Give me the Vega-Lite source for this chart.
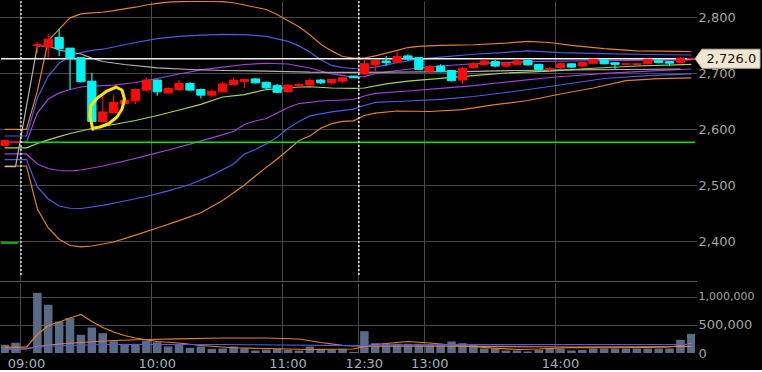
{
  "$schema": "https://vega.github.io/schema/vega-lite/v6.json",
  "background": "#000000",
  "padding": 0,
  "spacing": 2,
  "config": {
    "view": {"stroke": null},
    "font": "DejaVu Sans",
    "axis": {"labelFont": "DejaVu Sans", "gridColor": "#484848", "gridWidth": 1, "labelOverlap": false, "labelBound": false}
  },
  "resolve": {"scale": {"x": "shared"}},
  "datasets": {
    "candles": [
      {"t":"d1 14:55","o":2571,"h":2582,"l":2569,"c":2580,"vol":146000},
      {"t":"d1 15:00","o":2577,"h":2577,"l":2577,"c":2577,"vol":181000},
      {"t":"d2 09:05","o":2750,"h":2756,"l":2736,"c":2751,"vol":1071000},
      {"t":"d2 09:10","o":2747,"h":2771,"l":2728,"c":2761,"vol":858000},
      {"t":"d2 09:15","o":2764,"h":2780,"l":2731,"c":2744,"vol":560000},
      {"t":"d2 09:20","o":2745,"h":2745,"l":2671,"c":2727,"vol":619000},
      {"t":"d2 09:25","o":2728,"h":2729,"l":2684,"c":2685,"vol":324000},
      {"t":"d2 09:30","o":2686,"h":2701,"l":2612,"c":2614,"vol":454000},
      {"t":"d2 09:35","o":2614,"h":2660,"l":2612,"c":2631,"vol":352000},
      {"t":"d2 09:40","o":2630,"h":2661,"l":2628,"c":2648,"vol":210000},
      {"t":"d2 09:45","o":2646,"h":2655,"l":2644,"c":2652,"vol":164000},
      {"t":"d2 09:50","o":2651,"h":2673,"l":2645,"c":2671,"vol":164000},
      {"t":"d2 09:55","o":2670,"h":2693,"l":2668,"c":2688,"vol":222000},
      {"t":"d2 10:00","o":2688,"h":2689,"l":2660,"c":2667,"vol":192000},
      {"t":"d2 10:05","o":2665,"h":2675,"l":2663,"c":2673,"vol":116000},
      {"t":"d2 10:10","o":2671,"h":2688,"l":2669,"c":2682,"vol":164000},
      {"t":"d2 10:15","o":2682,"h":2684,"l":2669,"c":2670,"vol":92000},
      {"t":"d2 10:20","o":2671,"h":2673,"l":2655,"c":2661,"vol":116000},
      {"t":"d2 10:25","o":2661,"h":2671,"l":2657,"c":2668,"vol":74000},
      {"t":"d2 10:30","o":2667,"h":2685,"l":2666,"c":2681,"vol":80000},
      {"t":"d2 10:35","o":2680,"h":2692,"l":2679,"c":2688,"vol":116000},
      {"t":"d2 10:40","o":2685,"h":2690,"l":2674,"c":2689,"vol":80000},
      {"t":"d2 10:45","o":2690,"h":2691,"l":2682,"c":2683,"vol":44000},
      {"t":"d2 10:50","o":2684,"h":2685,"l":2670,"c":2674,"vol":62000},
      {"t":"d2 10:55","o":2678,"h":2681,"l":2665,"c":2666,"vol":74000},
      {"t":"d2 11:00","o":2667,"h":2680,"l":2666,"c":2679,"vol":56000},
      {"t":"d2 11:05","o":2678,"h":2683,"l":2675,"c":2680,"vol":44000},
      {"t":"d2 11:10","o":2679,"h":2691,"l":2678,"c":2687,"vol":116000},
      {"t":"d2 11:15","o":2688,"h":2690,"l":2681,"c":2683,"vol":74000},
      {"t":"d2 11:20","o":2683,"h":2690,"l":2680,"c":2689,"vol":62000},
      {"t":"d2 11:25","o":2686,"h":2693,"l":2682,"c":2692,"vol":74000},
      {"t":"d2 11:30","o":2695,"h":2695,"l":2692,"c":2692,"vol":20000},
      {"t":"d2 12:30","o":2699,"h":2725,"l":2697,"c":2717,"vol":388000},
      {"t":"d2 12:35","o":2715,"h":2724,"l":2703,"c":2723,"vol":175000},
      {"t":"d2 12:40","o":2722,"h":2731,"l":2713,"c":2719,"vol":164000},
      {"t":"d2 12:45","o":2720,"h":2739,"l":2718,"c":2730,"vol":164000},
      {"t":"d2 12:50","o":2731,"h":2734,"l":2722,"c":2726,"vol":164000},
      {"t":"d2 12:55","o":2728,"h":2729,"l":2706,"c":2707,"vol":164000},
      {"t":"d2 13:00","o":2704,"h":2715,"l":2700,"c":2712,"vol":150000},
      {"t":"d2 13:05","o":2713,"h":2716,"l":2702,"c":2704,"vol":150000},
      {"t":"d2 13:10","o":2705,"h":2706,"l":2685,"c":2687,"vol":205000},
      {"t":"d2 13:15","o":2688,"h":2711,"l":2681,"c":2709,"vol":175000},
      {"t":"d2 13:20","o":2710,"h":2720,"l":2708,"c":2717,"vol":152000},
      {"t":"d2 13:25","o":2716,"h":2725,"l":2714,"c":2722,"vol":80000},
      {"t":"d2 13:30","o":2721,"h":2724,"l":2711,"c":2713,"vol":80000},
      {"t":"d2 13:35","o":2713,"h":2720,"l":2711,"c":2718,"vol":44000},
      {"t":"d2 13:40","o":2716,"h":2724,"l":2715,"c":2722,"vol":44000},
      {"t":"d2 13:45","o":2723,"h":2724,"l":2714,"c":2715,"vol":27000},
      {"t":"d2 13:50","o":2716,"h":2717,"l":2705,"c":2707,"vol":56000},
      {"t":"d2 13:55","o":2708,"h":2711,"l":2703,"c":2709,"vol":80000},
      {"t":"d2 14:00","o":2710,"h":2719,"l":2708,"c":2717,"vol":80000},
      {"t":"d2 14:05","o":2717,"h":2718,"l":2710,"c":2711,"vol":44000},
      {"t":"d2 14:10","o":2713,"h":2720,"l":2712,"c":2719,"vol":56000},
      {"t":"d2 14:15","o":2718,"h":2726,"l":2717,"c":2725,"vol":80000},
      {"t":"d2 14:20","o":2724,"h":2725,"l":2716,"c":2717,"vol":80000},
      {"t":"d2 14:25","o":2719,"h":2720,"l":2706,"c":2716,"vol":80000},
      {"t":"d2 14:30","o":2716,"h":2718,"l":2715,"c":2717,"vol":80000},
      {"t":"d2 14:35","o":2716,"h":2718,"l":2715,"c":2717,"vol":80000},
      {"t":"d2 14:40","o":2717,"h":2726,"l":2716,"c":2725,"vol":80000},
      {"t":"d2 14:45","o":2723,"h":2724,"l":2718,"c":2719,"vol":80000},
      {"t":"d2 14:50","o":2721,"h":2721,"l":2713,"c":2718,"vol":80000},
      {"t":"d2 14:55","o":2719,"h":2729,"l":2718,"c":2727,"vol":235000},
      {"t":"d2 15:00","o":2726,"h":2726,"l":2726,"c":2726,"vol":341000}
    ],
    "bands": [
      {"t":"d1 14:55","s":"u3","v":2600},{"t":"d1 15:00","s":"u3","v":2600},{"t":"d2 09:00","s":"u3","v":2600},{"t":"d2 09:05","s":"u3","v":2668},{"t":"d2 09:10","s":"u3","v":2758},{"t":"d2 09:15","s":"u3","v":2779},{"t":"d2 09:20","s":"u3","v":2799},{"t":"d2 09:25","s":"u3","v":2806},{"t":"d2 09:30","s":"u3","v":2808},{"t":"d2 09:35","s":"u3","v":2809},{"t":"d2 09:40","s":"u3","v":2812},{"t":"d2 09:45","s":"u3","v":2815},{"t":"d2 09:50","s":"u3","v":2818},{"t":"d2 09:55","s":"u3","v":2822},{"t":"d2 10:00","s":"u3","v":2825},{"t":"d2 10:05","s":"u3","v":2827},{"t":"d2 10:10","s":"u3","v":2828},{"t":"d2 10:20","s":"u3","v":2829},{"t":"d2 10:30","s":"u3","v":2828},{"t":"d2 10:35","s":"u3","v":2826},{"t":"d2 10:40","s":"u3","v":2822},{"t":"d2 10:45","s":"u3","v":2818},{"t":"d2 10:50","s":"u3","v":2814},{"t":"d2 10:55","s":"u3","v":2805},{"t":"d2 11:00","s":"u3","v":2794},{"t":"d2 11:05","s":"u3","v":2783},{"t":"d2 11:10","s":"u3","v":2769},{"t":"d2 11:15","s":"u3","v":2752},{"t":"d2 11:20","s":"u3","v":2740},{"t":"d2 11:25","s":"u3","v":2730},{"t":"d2 11:30","s":"u3","v":2727},{"t":"d2 12:30","s":"u3","v":2727},{"t":"d2 12:35","s":"u3","v":2731},{"t":"d2 12:40","s":"u3","v":2736},{"t":"d2 12:45","s":"u3","v":2741},{"t":"d2 12:50","s":"u3","v":2746},{"t":"d2 12:55","s":"u3","v":2748},{"t":"d2 13:00","s":"u3","v":2749},{"t":"d2 13:05","s":"u3","v":2750},{"t":"d2 13:20","s":"u3","v":2751},{"t":"d2 13:35","s":"u3","v":2754},{"t":"d2 13:45","s":"u3","v":2757},{"t":"d2 13:55","s":"u3","v":2755},{"t":"d2 14:05","s":"u3","v":2750},{"t":"d2 14:20","s":"u3","v":2744},{"t":"d2 14:35","s":"u3","v":2740},{"t":"d2 14:55","s":"u3","v":2739},{"t":"d2 15:00","s":"u3","v":2738.5},
      {"t":"d1 14:55","s":"u2","v":2588},{"t":"d1 15:00","s":"u2","v":2588},{"t":"d2 09:00","s":"u2","v":2588},{"t":"d2 09:05","s":"u2","v":2656},{"t":"d2 09:10","s":"u2","v":2695},{"t":"d2 09:15","s":"u2","v":2718},{"t":"d2 09:20","s":"u2","v":2731},{"t":"d2 09:25","s":"u2","v":2737},{"t":"d2 09:30","s":"u2","v":2741},{"t":"d2 09:35","s":"u2","v":2743},{"t":"d2 09:40","s":"u2","v":2747},{"t":"d2 09:50","s":"u2","v":2755},{"t":"d2 10:00","s":"u2","v":2762},{"t":"d2 10:10","s":"u2","v":2766},{"t":"d2 10:20","s":"u2","v":2768},{"t":"d2 10:30","s":"u2","v":2769.5},{"t":"d2 10:40","s":"u2","v":2769},{"t":"d2 10:50","s":"u2","v":2766},{"t":"d2 11:00","s":"u2","v":2757},{"t":"d2 11:05","s":"u2","v":2749},{"t":"d2 11:10","s":"u2","v":2738},{"t":"d2 11:15","s":"u2","v":2724},{"t":"d2 11:20","s":"u2","v":2714},{"t":"d2 11:25","s":"u2","v":2710},{"t":"d2 11:30","s":"u2","v":2708.6},{"t":"d2 12:30","s":"u2","v":2709},{"t":"d2 12:35","s":"u2","v":2711},{"t":"d2 12:45","s":"u2","v":2719},{"t":"d2 12:55","s":"u2","v":2725.5},{"t":"d2 13:05","s":"u2","v":2729},{"t":"d2 13:20","s":"u2","v":2734},{"t":"d2 13:35","s":"u2","v":2737.5},{"t":"d2 13:45","s":"u2","v":2740},{"t":"d2 14:00","s":"u2","v":2737},{"t":"d2 14:20","s":"u2","v":2735},{"t":"d2 14:40","s":"u2","v":2733.6},{"t":"d2 15:00","s":"u2","v":2732.7},
      {"t":"d1 14:55","s":"u1","v":2577},{"t":"d1 15:00","s":"u1","v":2577},{"t":"d2 09:00","s":"u1","v":2577},{"t":"d2 09:05","s":"u1","v":2629},{"t":"d2 09:10","s":"u1","v":2654},{"t":"d2 09:15","s":"u1","v":2665},{"t":"d2 09:20","s":"u1","v":2671},{"t":"d2 09:25","s":"u1","v":2675.5},{"t":"d2 09:30","s":"u1","v":2677},{"t":"d2 09:40","s":"u1","v":2679},{"t":"d2 09:50","s":"u1","v":2683.6},{"t":"d2 10:00","s":"u1","v":2690.7},{"t":"d2 10:10","s":"u1","v":2698.8},{"t":"d2 10:20","s":"u1","v":2706},{"t":"d2 10:30","s":"u1","v":2711},{"t":"d2 10:40","s":"u1","v":2715.7},{"t":"d2 10:50","s":"u1","v":2717.9},{"t":"d2 11:00","s":"u1","v":2716.6},{"t":"d2 11:10","s":"u1","v":2709.5},{"t":"d2 11:20","s":"u1","v":2698.8},{"t":"d2 11:30","s":"u1","v":2693},{"t":"d2 12:30","s":"u1","v":2694},{"t":"d2 12:35","s":"u1","v":2699.6},{"t":"d2 12:45","s":"u1","v":2705},{"t":"d2 12:55","s":"u1","v":2709.5},{"t":"d2 13:05","s":"u1","v":2713},{"t":"d2 13:20","s":"u1","v":2717},{"t":"d2 13:35","s":"u1","v":2719},{"t":"d2 13:45","s":"u1","v":2721},{"t":"d2 14:05","s":"u1","v":2722},{"t":"d2 14:30","s":"u1","v":2723},{"t":"d2 15:00","s":"u1","v":2724},
      {"t":"d1 14:55","s":"mid","v":2567},{"t":"d1 15:00","s":"mid","v":2567},{"t":"d2 09:00","s":"mid","v":2567},{"t":"d2 09:05","s":"mid","v":2574.6},{"t":"d2 09:10","s":"mid","v":2581},{"t":"d2 09:15","s":"mid","v":2587},{"t":"d2 09:20","s":"mid","v":2592.5},{"t":"d2 09:30","s":"mid","v":2601.4},{"t":"d2 09:40","s":"mid","v":2608.6},{"t":"d2 09:50","s":"mid","v":2615.7},{"t":"d2 10:00","s":"mid","v":2624.6},{"t":"d2 10:10","s":"mid","v":2634.4},{"t":"d2 10:20","s":"mid","v":2644.6},{"t":"d2 10:30","s":"mid","v":2657.7},{"t":"d2 10:40","s":"mid","v":2662},{"t":"d2 10:50","s":"mid","v":2671},{"t":"d2 11:00","s":"mid","v":2674.6},{"t":"d2 11:10","s":"mid","v":2676},{"t":"d2 11:20","s":"mid","v":2673.75},{"t":"d2 11:30","s":"mid","v":2672.9},{"t":"d2 12:30","s":"mid","v":2673.75},{"t":"d2 12:40","s":"mid","v":2681},{"t":"d2 12:50","s":"mid","v":2686},{"t":"d2 13:05","s":"mid","v":2691},{"t":"d2 13:20","s":"mid","v":2696},{"t":"d2 13:35","s":"mid","v":2700.5},{"t":"d2 13:55","s":"mid","v":2704},{"t":"d2 14:15","s":"mid","v":2709},{"t":"d2 14:35","s":"mid","v":2713},{"t":"d2 15:00","s":"mid","v":2716},
      {"t":"d1 14:55","s":"l1","v":2556},{"t":"d1 15:00","s":"l1","v":2556},{"t":"d2 09:00","s":"l1","v":2556},{"t":"d2 09:05","s":"l1","v":2538},{"t":"d2 09:10","s":"l1","v":2530},{"t":"d2 09:15","s":"l1","v":2526.4},{"t":"d2 09:20","s":"l1","v":2525.5},{"t":"d2 09:25","s":"l1","v":2527.3},{"t":"d2 09:35","s":"l1","v":2534.5},{"t":"d2 09:45","s":"l1","v":2543.4},{"t":"d2 09:55","s":"l1","v":2553},{"t":"d2 10:05","s":"l1","v":2563},{"t":"d2 10:15","s":"l1","v":2573.4},{"t":"d2 10:25","s":"l1","v":2584.8},{"t":"d2 10:35","s":"l1","v":2596},{"t":"d2 10:40","s":"l1","v":2608.6},{"t":"d2 10:45","s":"l1","v":2614.8},{"t":"d2 10:50","s":"l1","v":2619.3},{"t":"d2 11:00","s":"l1","v":2639},{"t":"d2 11:05","s":"l1","v":2646},{"t":"d2 11:15","s":"l1","v":2650.5},{"t":"d2 11:30","s":"l1","v":2653.2},{"t":"d2 12:30","s":"l1","v":2659.5},{"t":"d2 12:35","s":"l1","v":2664},{"t":"d2 12:50","s":"l1","v":2668.4},{"t":"d2 13:05","s":"l1","v":2673},{"t":"d2 13:20","s":"l1","v":2678},{"t":"d2 13:35","s":"l1","v":2684.5},{"t":"d2 13:55","s":"l1","v":2692.5},{"t":"d2 14:20","s":"l1","v":2700},{"t":"d2 14:40","s":"l1","v":2704},{"t":"d2 15:00","s":"l1","v":2707.7},
      {"t":"d1 14:55","s":"l2","v":2546},{"t":"d1 15:00","s":"l2","v":2546},{"t":"d2 09:00","s":"l2","v":2546},{"t":"d2 09:05","s":"l2","v":2497},{"t":"d2 09:10","s":"l2","v":2475.5},{"t":"d2 09:15","s":"l2","v":2463},{"t":"d2 09:20","s":"l2","v":2459},{"t":"d2 09:25","s":"l2","v":2458.6},{"t":"d2 09:35","s":"l2","v":2464},{"t":"d2 09:45","s":"l2","v":2472},{"t":"d2 09:55","s":"l2","v":2480},{"t":"d2 10:05","s":"l2","v":2490},{"t":"d2 10:15","s":"l2","v":2501.4},{"t":"d2 10:25","s":"l2","v":2517.7},{"t":"d2 10:35","s":"l2","v":2538},{"t":"d2 10:40","s":"l2","v":2556},{"t":"d2 10:45","s":"l2","v":2564},{"t":"d2 10:50","s":"l2","v":2574},{"t":"d2 10:55","s":"l2","v":2586},{"t":"d2 11:00","s":"l2","v":2602},{"t":"d2 11:05","s":"l2","v":2614},{"t":"d2 11:10","s":"l2","v":2624},{"t":"d2 11:20","s":"l2","v":2631},{"t":"d2 11:30","s":"l2","v":2636},{"t":"d2 12:30","s":"l2","v":2642.5},{"t":"d2 12:35","s":"l2","v":2648},{"t":"d2 12:50","s":"l2","v":2650.5},{"t":"d2 13:05","s":"l2","v":2653.6},{"t":"d2 13:20","s":"l2","v":2658.6},{"t":"d2 13:35","s":"l2","v":2665.7},{"t":"d2 13:55","s":"l2","v":2676.4},{"t":"d2 14:20","s":"l2","v":2690.7},{"t":"d2 14:40","s":"l2","v":2696},{"t":"d2 15:00","s":"l2","v":2699},
      {"t":"d1 14:55","s":"l3","v":2534.5},{"t":"d1 15:00","s":"l3","v":2534.5},{"t":"d2 09:00","s":"l3","v":2534.5},{"t":"d2 09:05","s":"l3","v":2457.7},{"t":"d2 09:10","s":"l3","v":2423.8},{"t":"d2 09:15","s":"l3","v":2403.6},{"t":"d2 09:20","s":"l3","v":2392.5},{"t":"d2 09:25","s":"l3","v":2390},{"t":"d2 09:30","s":"l3","v":2391.6},{"t":"d2 09:40","s":"l3","v":2398.75},{"t":"d2 09:50","s":"l3","v":2411},{"t":"d2 10:00","s":"l3","v":2423.8},{"t":"d2 10:10","s":"l3","v":2437},{"t":"d2 10:20","s":"l3","v":2451},{"t":"d2 10:30","s":"l3","v":2473},{"t":"d2 10:40","s":"l3","v":2500.5},{"t":"d2 10:45","s":"l3","v":2516.6},{"t":"d2 10:50","s":"l3","v":2532},{"t":"d2 10:55","s":"l3","v":2547},{"t":"d2 11:00","s":"l3","v":2563},{"t":"d2 11:05","s":"l3","v":2580},{"t":"d2 11:10","s":"l3","v":2588},{"t":"d2 11:15","s":"l3","v":2602},{"t":"d2 11:20","s":"l3","v":2610},{"t":"d2 11:25","s":"l3","v":2614},{"t":"d2 11:30","s":"l3","v":2615},{"t":"d2 12:30","s":"l3","v":2624.6},{"t":"d2 12:35","s":"l3","v":2629},{"t":"d2 12:45","s":"l3","v":2632.7},{"t":"d2 13:00","s":"l3","v":2631.8},{"t":"d2 13:15","s":"l3","v":2635},{"t":"d2 13:30","s":"l3","v":2644},{"t":"d2 13:45","s":"l3","v":2651.4},{"t":"d2 14:00","s":"l3","v":2663},{"t":"d2 14:15","s":"l3","v":2673.75},{"t":"d2 14:30","s":"l3","v":2687},{"t":"d2 14:45","s":"l3","v":2690.4},{"t":"d2 15:00","s":"l3","v":2692},
      {"t":"d1 14:55","s":"vw","v":2533.5},{"t":"d1 15:00","s":"vw","v":2533.5},{"t":"d2 09:05","s":"vw","v":2748.75},{"t":"d2 09:10","s":"vw","v":2748.75},{"t":"d2 09:15","s":"vw","v":2741.6},{"t":"d2 09:20","s":"vw","v":2738},{"t":"d2 09:25","s":"vw","v":2734.5},{"t":"d2 09:30","s":"vw","v":2727},{"t":"d2 09:35","s":"vw","v":2721},{"t":"d2 09:45","s":"vw","v":2715.7},{"t":"d2 10:00","s":"vw","v":2709.8},{"t":"d2 10:15","s":"vw","v":2706.8},{"t":"d2 10:30","s":"vw","v":2705},{"t":"d2 10:50","s":"vw","v":2704},{"t":"d2 11:10","s":"vw","v":2702},{"t":"d2 11:30","s":"vw","v":2701.8},{"t":"d2 12:50","s":"vw","v":2702.3},{"t":"d2 13:15","s":"vw","v":2703},{"t":"d2 13:40","s":"vw","v":2705},{"t":"d2 14:05","s":"vw","v":2706},{"t":"d2 14:30","s":"vw","v":2706.8},{"t":"d2 14:55","s":"vw","v":2707.7}
    ],
    "vlines": [
      {"t":"d1 14:55","s":"m1","v":103000},{"t":"d1 15:00","s":"m1","v":103000},{"t":"d2 09:00","s":"m1","v":103000},{"t":"d2 09:05","s":"m1","v":329000},{"t":"d2 09:10","s":"m1","v":489000},{"t":"d2 09:15","s":"m1","v":552000},{"t":"d2 09:20","s":"m1","v":623000},{"t":"d2 09:25","s":"m1","v":685000},{"t":"d2 09:30","s":"m1","v":560000},{"t":"d2 09:35","s":"m1","v":454000},{"t":"d2 09:40","s":"m1","v":374000},{"t":"d2 09:45","s":"m1","v":311000},{"t":"d2 09:50","s":"m1","v":267000},{"t":"d2 10:00","s":"m1","v":205000},{"t":"d2 10:10","s":"m1","v":178000},{"t":"d2 10:20","s":"m1","v":133000},{"t":"d2 10:35","s":"m1","v":93000},{"t":"d2 10:50","s":"m1","v":80000},{"t":"d2 11:10","s":"m1","v":62000},{"t":"d2 11:30","s":"m1","v":71000},{"t":"d2 12:30","s":"m1","v":116000},{"t":"d2 12:35","s":"m1","v":151000},{"t":"d2 12:45","s":"m1","v":187000},{"t":"d2 12:50","s":"m1","v":205000},{"t":"d2 13:00","s":"m1","v":178000},{"t":"d2 13:10","s":"m1","v":142000},{"t":"d2 13:25","s":"m1","v":98000},{"t":"d2 13:40","s":"m1","v":62000},{"t":"d2 13:50","s":"m1","v":71000},{"t":"d2 14:05","s":"m1","v":98000},{"t":"d2 14:20","s":"m1","v":93000},{"t":"d2 14:40","s":"m1","v":98000},{"t":"d2 14:50","s":"m1","v":107000},{"t":"d2 15:00","s":"m1","v":169000},
      {"t":"d1 14:55","s":"m2","v":75000},{"t":"d1 15:00","s":"m2","v":75000},{"t":"d2 09:00","s":"m2","v":75000},{"t":"d2 09:05","s":"m2","v":116000},{"t":"d2 09:15","s":"m2","v":160000},{"t":"d2 09:25","s":"m2","v":187000},{"t":"d2 09:40","s":"m2","v":222000},{"t":"d2 09:55","s":"m2","v":240000},{"t":"d2 10:10","s":"m2","v":253000},{"t":"d2 10:30","s":"m2","v":267000},{"t":"d2 10:50","s":"m2","v":267000},{"t":"d2 11:05","s":"m2","v":249000},{"t":"d2 11:15","s":"m2","v":187000},{"t":"d2 11:25","s":"m2","v":137000},{"t":"d2 12:30","s":"m2","v":121000},{"t":"d2 13:15","s":"m2","v":121000},{"t":"d2 14:05","s":"m2","v":107000},{"t":"d2 15:00","s":"m2","v":116000},
      {"t":"d1 14:55","s":"m3","v":75000},{"t":"d1 15:00","s":"m3","v":75000},{"t":"d2 09:00","s":"m3","v":85000},{"t":"d2 09:10","s":"m3","v":121000},{"t":"d2 09:35","s":"m3","v":151000},{"t":"d2 10:30","s":"m3","v":151000},{"t":"d2 11:30","s":"m3","v":133000},{"t":"d2 12:40","s":"m3","v":146000},{"t":"d2 15:00","s":"m3","v":151000}
    ]
  },
  "vconcat": [
    {
      "width": 694,
      "height": 280,
      "layer": [
        {
          "data": {"name": "bands"},
          "mark": {"type": "line", "strokeWidth": 1.2, "clip": true},
          "encoding": {
            "x": {
              "field": "t", "type": "ordinal",
              "scale": {
                "domain": ["d1 14:55","d1 15:00","d2 09:00","d2 09:05","d2 09:10","d2 09:15","d2 09:20","d2 09:25","d2 09:30","d2 09:35","d2 09:40","d2 09:45","d2 09:50","d2 09:55","d2 10:00","d2 10:05","d2 10:10","d2 10:15","d2 10:20","d2 10:25","d2 10:30","d2 10:35","d2 10:40","d2 10:45","d2 10:50","d2 10:55","d2 11:00","d2 11:05","d2 11:10","d2 11:15","d2 11:20","d2 11:25","d2 11:30","d2 12:30","d2 12:35","d2 12:40","d2 12:45","d2 12:50","d2 12:55","d2 13:00","d2 13:05","d2 13:10","d2 13:15","d2 13:20","d2 13:25","d2 13:30","d2 13:35","d2 13:40","d2 13:45","d2 13:50","d2 13:55","d2 14:00","d2 14:05","d2 14:10","d2 14:15","d2 14:20","d2 14:25","d2 14:30","d2 14:35","d2 14:40","d2 14:45","d2 14:50","d2 14:55","d2 15:00"],
                "range": [-1.8, 695.8],
                "paddingInner": 0,
                "paddingOuter": 0
              },
              "axis": {
                "orient": "bottom", "values": ["d2 09:00","d2 10:00","d2 11:00","d2 12:30","d2 13:00","d2 14:00"],
                "bandPosition": 0, "labels": false, "ticks": false, "domain": true, "domainColor": "#555555",
                "grid": true, "title": null
              }
            },
            "y": {
              "field": "v", "type": "quantitative",
              "scale": {"domain": [2329.1, 2829.1], "nice": false, "zero": false},
              "axis": {
                "orient": "right", "title": null, "domain": false,
                "values": [2400,2425,2450,2475,2500,2525,2550,2575,2600,2625,2650,2675,2700,2725,2750,2775,2800,2825],
                "labelExpr": "datum.value % 100 === 0 ? format(datum.value, ',') : ''",
                "grid": true,
                "gridOpacity": {"condition": {"test": "datum.value % 100 === 0", "value": 1}, "value": 0},
                "ticks": true, "tickColor": "#6a6a6a", "tickWidth": 1,
                "tickSize": {"condition": {"test": "datum.value % 50 === 0", "value": 9}, "value": 5},
                "tickOpacity": {"condition": {"test": "datum.value % 100 === 0", "value": 0}, "value": 1},
                "labelPadding": -6, "labelColor": "#a4a4a4", "labelFontSize": 13,
                "labelOverlap": false, "labelBound": false
              }
            },
            "color": {
              "field": "s", "type": "nominal", "legend": null,
              "scale": {
                "domain": ["u3","l3","u2","l2","u1","l1","mid","vw"],
                "range": ["#e3812c","#e3812c","#5058e4","#5058e4","#a340de","#a340de","#a8d65c","#b4b4b4"]
              }
            }
          }
        },
        {
          "data": {"values": [{"p": 2577}]},
          "mark": {"type": "rule", "color": "#00e600", "strokeWidth": 1.5, "clip": true},
          "encoding": {
            "x": {"datum": "d2 09:00", "type": "ordinal", "bandPosition": 0},
            "x2": {"datum": "d2 15:00", "bandPosition": 1},
            "y": {"field": "p", "type": "quantitative"}
          }
        },
        {
          "data": {"values": [{"p": 2397}]},
          "mark": {"type": "rule", "color": "#00e600", "strokeWidth": 1.5, "clip": true},
          "encoding": {
            "x": {"datum": "d1 14:55", "type": "ordinal", "bandPosition": 0},
            "x2": {"datum": "d1 15:00", "bandPosition": 0.75},
            "y": {"field": "p", "type": "quantitative"}
          }
        },
        {
          "data": {"values": [{"p": 2726}]},
          "mark": {"type": "rule", "color": "#f2f2f2", "strokeWidth": 1.3},
          "encoding": {"y": {"field": "p", "type": "quantitative"}}
        },
        {
          "data": {"name": "candles"},
          "mark": {"type": "rule", "strokeWidth": 1.2, "clip": true},
          "encoding": {
            "x": {"field": "t", "type": "ordinal"},
            "y": {"field": "l", "type": "quantitative"},
            "y2": {"field": "h"},
            "color": {"condition": {"test": "datum.c >= datum.o", "value": "#ff0a0a"}, "value": "#00f4f4"}
          }
        },
        {
          "data": {"name": "candles"},
          "mark": {"type": "bar", "width": 8.3, "strokeWidth": 1, "clip": true},
          "encoding": {
            "x": {"field": "t", "type": "ordinal"},
            "y": {"field": "o", "type": "quantitative"},
            "y2": {"field": "c"},
            "color": {"condition": {"test": "datum.c >= datum.o", "value": "#ff0a0a"}, "value": "#00f4f4"},
            "stroke": {"condition": {"test": "datum.c >= datum.o", "value": "#ff0a0a"}, "value": "#00f4f4"}
          }
        },
        {
          "data": {"values": [{"t": "d2 09:00"}, {"t": "d2 12:30"}]},
          "mark": {"type": "rule", "color": "#ffffff", "strokeWidth": 1.3, "strokeDash": [2, 2]},
          "encoding": {
            "x": {"field": "t", "type": "ordinal", "bandPosition": 0},
            "y": {"datum": 2829.1, "type": "quantitative"},
            "y2": {"datum": 2338}
          }
        },
        {
          "data": {"values": [{"t": "d2 09:35", "p": 2638}]},
          "mark": {
            "type": "point", "filled": false, "opacity": 1, "color": "#ffe400", "strokeWidth": 3,
            "strokeCap": "round", "strokeJoin": "round", "size": 10000,
            "shape": "M-0.201,0.426 L-0.255,0.16 L-0.235,-0.06 L-0.101,-0.206 L0.085,-0.34 L0.265,-0.42 L0.385,-0.36 L0.435,-0.18 L0.385,0.02 L0.285,0.18 L0.125,0.31 L-0.055,0.38 L-0.175,0.40"
          },
          "encoding": {
            "x": {"field": "t", "type": "ordinal"},
            "y": {"field": "p", "type": "quantitative"}
          }
        },
        {
          "data": {"values": [{"t": "d2 15:00", "p": 2726}]},
          "mark": {
            "type": "point", "filled": true, "opacity": 1, "color": "#efe6d2", "stroke": "#bdb29c", "strokeWidth": 1,
            "size": 25600,
            "shape": "M0.0456,0 L0.133,-0.119 L0.858,-0.119 L0.858,0.119 L0.133,0.119 Z"
          },
          "encoding": {
            "x": {"field": "t", "type": "ordinal"},
            "y": {"field": "p", "type": "quantitative"}
          }
        },
        {
          "data": {"values": [{"t": "d2 15:00", "p": 2726}]},
          "mark": {"type": "text", "dx": 40, "align": "center", "baseline": "middle", "fontSize": 13, "color": "#141414", "font": "DejaVu Sans"},
          "encoding": {
            "x": {"field": "t", "type": "ordinal"},
            "y": {"field": "p", "type": "quantitative"},
            "text": {"field": "p", "format": ",.1f"}
          }
        }
      ]
    },
    {
      "width": 694,
      "height": 70,
      "layer": [
        {
          "data": {"name": "vlines"},
          "mark": {"type": "line", "strokeWidth": 1.2, "clip": true, "opacity": 0},
          "encoding": {
            "x": {
              "field": "t", "type": "ordinal",
              "axis": {
                "orient": "bottom", "values": ["d2 09:00","d2 10:00","d2 11:00","d2 12:30","d2 13:00","d2 14:00"],
                "bandPosition": 0, "labelExpr": "slice(datum.value, 3)", "labels": true, "labelAngle": 0,
                "labelAlign": "center", "labelBaseline": "top", "ticks": false, "domain": false,
                "grid": true, "title": null, "labelColor": "#a8b0bf", "labelFontSize": 13, "labelPadding": 4,
                "labelOverlap": false, "labelBound": false, "labelFlush": false
              }
            },
            "y": {
              "field": "v", "type": "quantitative",
              "scale": {"domain": [0, 1245600], "nice": false},
              "axis": {
                "orient": "right", "title": null, "domain": false, "ticks": false,
                "tickCount": 3,
                "labelExpr": "format(datum.value, ',')",
                "grid": true,
                "gridOpacity": {"condition": {"test": "datum.value === 0", "value": 0}, "value": 1},
                "labelPadding": 3, "labelColor": "#a4a4a4",
                "labelFontSize": {"condition": {"test": "datum.value >= 1000000", "value": 11}, "value": 13},
                "labelOverlap": false, "labelBound": false
              }
            }
          }
        },
        {
          "data": {"name": "candles"},
          "mark": {"type": "bar", "width": 8.5, "color": "#5a6b87", "clip": true},
          "encoding": {
            "x": {"field": "t", "type": "ordinal"},
            "y": {"field": "vol", "type": "quantitative"}
          }
        },
        {
          "data": {"name": "vlines"},
          "mark": {"type": "line", "strokeWidth": 1.2, "clip": true},
          "encoding": {
            "x": {"field": "t", "type": "ordinal"},
            "y": {"field": "v", "type": "quantitative"},
            "color": {
              "field": "s", "type": "nominal", "legend": null,
              "scale": {"domain": ["m1","m2","m3"], "range": ["#9fd44c","#f08c28","#5a5cf0"]}
            }
          }
        }
      ]
    }
  ]
}
